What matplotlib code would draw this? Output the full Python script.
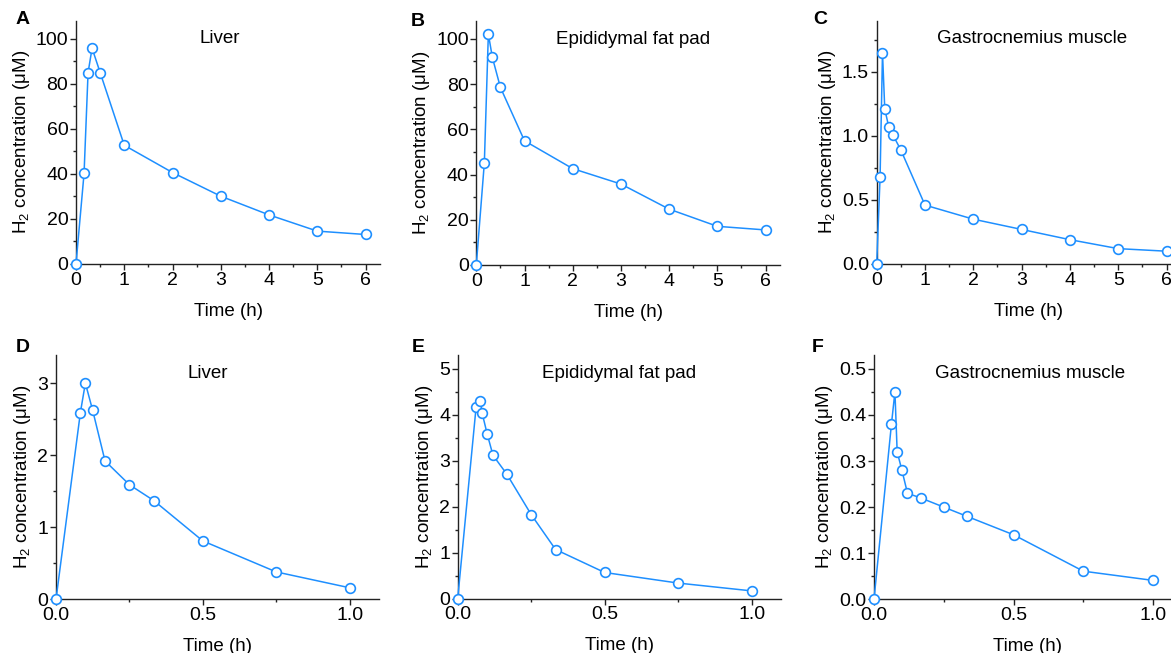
import matplotlib
matplotlib.use("Agg")
import matplotlib.pyplot as plt
from matplotlib.ticker import MultipleLocator

plt.rcParams['font.family'] = ['Liberation Sans', 'DejaVu Sans']
plt.rcParams['mathtext.default'] = 'regular'

# time points (h)
t_long = [0, 0.167, 0.25, 0.333, 0.5, 1, 2, 3, 4, 5, 6]
t_long_c = [0, 0.07, 0.12, 0.167, 0.25, 0.333, 0.5, 1, 2, 3, 4, 5, 6]
t_short_d = [0, 0.083, 0.1, 0.125, 0.167, 0.25, 0.333, 0.5, 0.75, 1.0]
t_short = [0, 0.0625, 0.075, 0.083, 0.1, 0.12, 0.167, 0.25, 0.333, 0.5, 0.75, 1.0]

# H2 concentration (uM)
liver_a = [0, 40.2, 84.9, 95.8, 85, 52.7, 40.6, 30.1, 21.8, 14.6, 13.1]
fat_b = [0, 45.2, 102.1, 91.8, 78.5, 54.9, 42.6, 35.8, 24.7, 17.1, 15.5]
muscle_c = [0, 0.68, 1.65, 1.21, 1.07, 1.01, 0.89, 0.46, 0.35, 0.27, 0.19, 0.12, 0.10]
liver_d = [0, 2.59, 3.0, 2.62, 1.92, 1.59, 1.37, 0.81, 0.38, 0.16]
fat_e = [0, 4.16, 4.30, 4.04, 3.59, 3.12, 2.71, 1.83, 1.07, 0.57, 0.34, 0.17]
muscle_f = [0, 0.38, 0.45, 0.32, 0.28, 0.23, 0.22, 0.20, 0.18, 0.14, 0.061, 0.041]

W, H = 1171, 653
color = '#1e8fff'

panels = [
    # letter, title, title x, x, y, box(px: left, top, right, bottom), letter pos, xlim, ylim, ticks, y format
    ('A', 'Liver', 0.473, t_long, liver_a, (76, 20.7, 380, 264), (16, 20), 6.3, 108, 1, 0.5, 20, 10, '{x:.0f}'),
    ('B', 'Epididymal fat pad', 0.516, t_long, fat_b, (476.3, 20.7, 780, 265), (411, 21), 6.3, 108, 1, 0.5, 20, 10, '{x:.0f}'),
    ('C', 'Gastrocnemius muscle', 0.512, t_long_c, muscle_c, (876.7, 20.7, 1181, 264), (813, 20), 6.3, 1.9, 1, 0.5, 0.5, 0.25, '{x:.1f}'),
    ('D', 'Liver', 0.47, t_short_d, liver_d, (56, 355, 379, 599.3), (16, 348), 1.1, 3.39, 0.5, 0.25, 1, 0.5, '{x:.0f}'),
    ('E', 'Epididymal fat pad', 0.5, t_short, fat_e, (457.7, 355, 781, 598.7), (412, 348), 1.1, 5.3, 0.5, 0.25, 1, 0.5, '{x:.0f}'),
    ('F', 'Gastrocnemius muscle', 0.508, t_short, muscle_f, (874, 355, 1181, 599.3), (812, 348), 1.1, 0.53, 0.5, 0.25, 0.1, 0.05, '{x:.1f}'),
]

fig = plt.figure(figsize=(W / 100, H / 100), dpi=100)

for letter, title, tx, x, y, box, lpos, xmax, ymax, xmaj, xmin, ymaj, ymin, yfmt in panels:
    l, t, r, b = box
    ax = fig.add_axes([l / W, 1 - b / H, (r - l) / W, (b - t) / H])
    ax.plot(x, y, '-o', color=color, lw=1.1, ms=7, mfc='white', mec=color, mew=1.2,
            clip_on=False, zorder=3)
    ax.set_xlim(0, xmax)
    ax.set_ylim(0, ymax)
    ax.xaxis.set_major_locator(MultipleLocator(xmaj))
    ax.xaxis.set_minor_locator(MultipleLocator(xmin))
    ax.yaxis.set_major_locator(MultipleLocator(ymaj))
    ax.yaxis.set_minor_locator(MultipleLocator(ymin))
    ax.yaxis.set_major_formatter(yfmt)
    ax.xaxis.set_major_formatter('{x:.1f}' if xmaj == 0.5 else '{x:.0f}')
    for s in ['top', 'right']:
        ax.spines[s].set_visible(False)
    for s in ['left', 'bottom']:
        ax.spines[s].set_color('#222222')
        ax.spines[s].set_linewidth(1.0)
    ax.tick_params(which='major', direction='out', length=4, width=1, colors='#222222',
                   labelsize=14, labelcolor='black', pad=1.5)
    ax.tick_params(which='minor', direction='out', length=2.5, width=1, colors='#222222')
    ax.set_xlabel('Time (h)', fontsize=13.5, labelpad=10)
    ax.set_ylabel('H$_2$ concentration (μM)', fontsize=13.5, labelpad=3)
    ax.text(tx, 0.925, title, transform=ax.transAxes, ha='center',
            va='center', fontsize=13.5)
    fig.text(lpos[0] / W, 1 - lpos[1] / H, letter, ha='left', va='center',
             fontsize=14, fontweight='bold')

fig.savefig('out.png', dpi=100)
